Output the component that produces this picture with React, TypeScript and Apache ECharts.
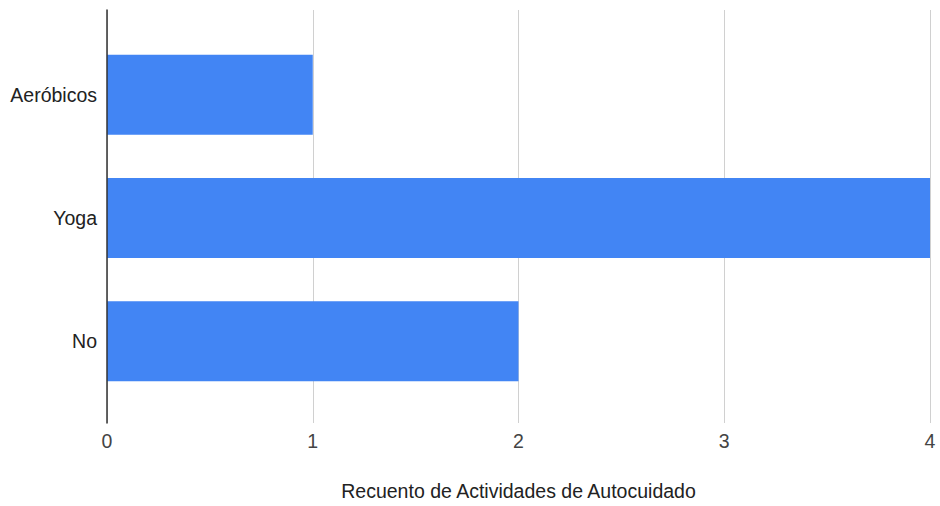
import React, { useEffect, useRef } from "react";
import * as echarts from "echarts";

const categories = ["Aeróbicos", "Yoga", "No"];
const counts = [1, 4, 2];
const xTicks = [0, 1, 2, 3, 4];
const axisTitle = "Recuento de Actividades de Autocuidado";

export default function App() {
  const ref = useRef<HTMLDivElement>(null);
  useEffect(() => {
    document.body.style.margin = "0";
    const chart = echarts.init(ref.current!, null, { renderer: "svg" });
    const font = "Arial, 'Liberation Sans', sans-serif";
    const fs = 19.5;
    chart.setOption({
      animation: false,
      backgroundColor: "#ffffff",
      textStyle: { fontFamily: font },
      grid: [
        { left: 107, right: 10, top: 10, bottom: 81 },
        { left: 107, right: 10, top: 33, bottom: 103 },
      ],
      xAxis: [
        {
          type: "value",
          gridIndex: 0,
          min: xTicks[0],
          max: xTicks[xTicks.length - 1],
          interval: 1,
          axisLine: { show: false },
          axisTick: { show: false },
          splitLine: { show: true, lineStyle: { color: "#d0d0d0", width: 1 } },
          axisLabel: { fontSize: fs, color: "#444", margin: 8, fontFamily: font },
          name: axisTitle,
          nameLocation: "middle",
          nameGap: 58,
          nameTextStyle: { fontSize: fs, color: "#222", fontFamily: font },
        },
        {
          type: "value",
          gridIndex: 1,
          min: xTicks[0],
          max: xTicks[xTicks.length - 1],
          show: false,
        },
      ],
      yAxis: [
        {
          type: "value",
          gridIndex: 0,
          min: 0,
          max: 1,
          z: 5,
          axisLine: { show: true, lineStyle: { color: "#333", width: 1.5 } },
          axisTick: { show: false },
          axisLabel: { show: false },
          splitLine: { show: false },
        },
        {
          type: "category",
          gridIndex: 1,
          inverse: true,
          data: categories,
          axisLine: { show: false },
          axisTick: { show: false },
          splitLine: { show: false },
          axisLabel: { fontSize: fs, color: "#222", margin: 10, fontFamily: font },
        },
      ],
      series: [
        {
          type: "bar",
          xAxisIndex: 1,
          yAxisIndex: 1,
          data: counts,
          barWidth: 80,
          itemStyle: { color: "#4285f4" },
        },
      ],
    });
    return () => chart.dispose();
  }, []);
  return <div ref={ref} style={{ width: 940, height: 506 }} />;
}
